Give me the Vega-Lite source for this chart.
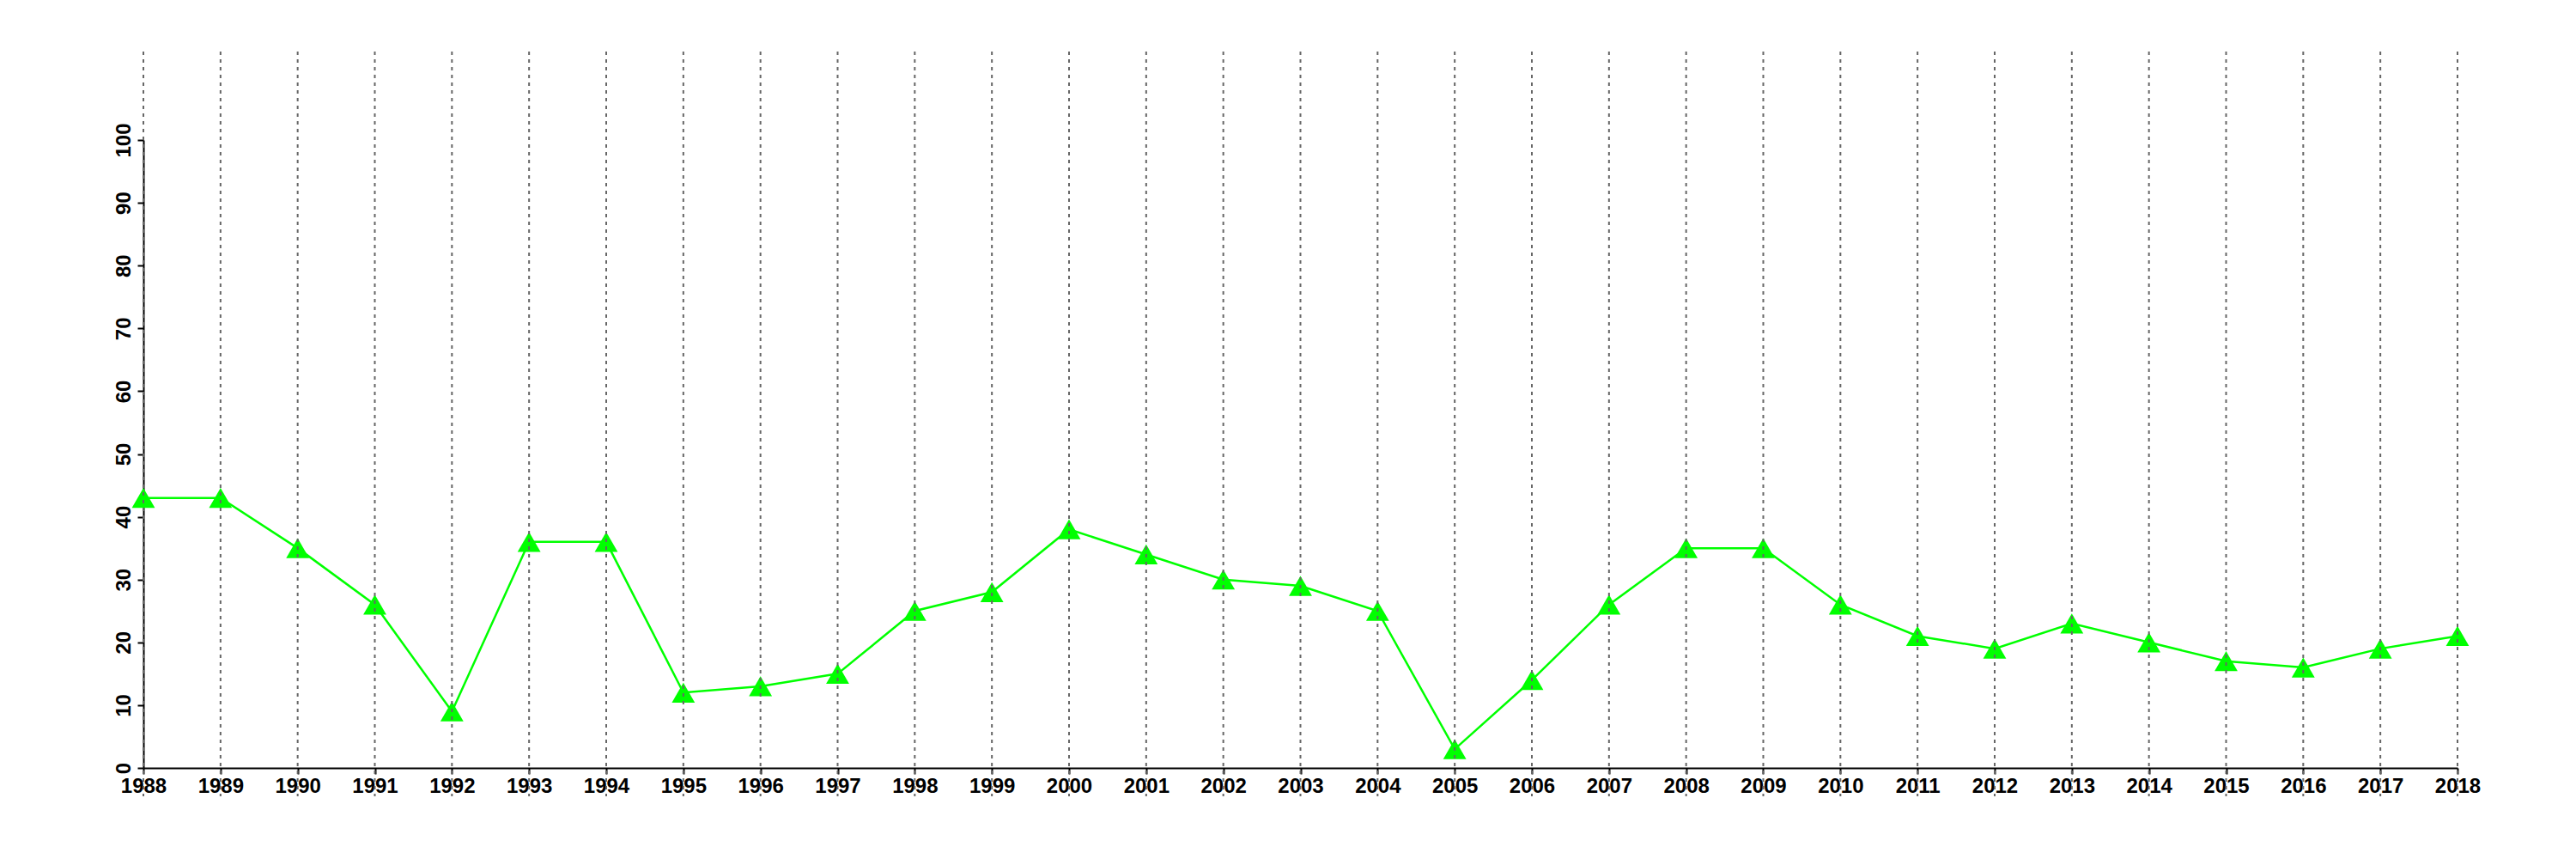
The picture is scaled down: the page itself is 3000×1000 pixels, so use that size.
{
  "$schema": "https://vega.github.io/schema/vega-lite/v6.json",
  "autosize": {"type": "none"},
  "width": 2695,
  "height": 731,
  "padding": {"left": 167, "top": 163, "right": 138, "bottom": 106},
  "background": "white",
  "config": {
    "view": {"stroke": null},
    "axis": {
      "labelFont": "Liberation Sans",
      "labelFontWeight": "bold",
      "labelFontSize": 24,
      "labelColor": "black",
      "domainColor": "black",
      "domainWidth": 2,
      "tickColor": "black",
      "tickWidth": 2,
      "tickSize": 7,
      "grid": false,
      "title": null
    }
  },
  "data": {
    "values": [
      {"year": 1988, "value": 43},
      {"year": 1989, "value": 43},
      {"year": 1990, "value": 35},
      {"year": 1991, "value": 26},
      {"year": 1992, "value": 9},
      {"year": 1993, "value": 36},
      {"year": 1994, "value": 36},
      {"year": 1995, "value": 12},
      {"year": 1996, "value": 13},
      {"year": 1997, "value": 15},
      {"year": 1998, "value": 25},
      {"year": 1999, "value": 28},
      {"year": 2000, "value": 38},
      {"year": 2001, "value": 34},
      {"year": 2002, "value": 30},
      {"year": 2003, "value": 29},
      {"year": 2004, "value": 25},
      {"year": 2005, "value": 3},
      {"year": 2006, "value": 14},
      {"year": 2007, "value": 26},
      {"year": 2008, "value": 35},
      {"year": 2009, "value": 35},
      {"year": 2010, "value": 26},
      {"year": 2011, "value": 21},
      {"year": 2012, "value": 19},
      {"year": 2013, "value": 23},
      {"year": 2014, "value": 20},
      {"year": 2015, "value": 17},
      {"year": 2016, "value": 16},
      {"year": 2017, "value": 19},
      {"year": 2018, "value": 21}
    ]
  },
  "layer": [
    {
      "mark": {"type": "line", "color": "#00ff00", "strokeWidth": 2.5},
      "encoding": {
        "x": {
          "field": "year", "type": "quantitative",
          "scale": {"domain": [1988, 2018], "nice": false, "zero": false},
          "axis": {
            "values": [1988,1989,1990,1991,1992,1993,1994,1995,1996,1997,1998,1999,2000,2001,2002,2003,2004,2005,2006,2007,2008,2009,2010,2011,2012,2013,2014,2015,2016,2017,2018],
            "format": "d",
            "labelFlush": false,
            "labelOverlap": false,
            "labelPadding": 2
          }
        },
        "y": {
          "field": "value", "type": "quantitative",
          "scale": {"domain": [0, 100], "nice": false},
          "axis": {
            "values": [0,10,20,30,40,50,60,70,80,90,100],
            "labelAngle": 270,
            "labelAlign": "center",
            "labelBaseline": "bottom",
            "labelPadding": 4,
            "labelOverlap": false
          }
        }
      }
    },
    {
      "mark": {"type": "point", "shape": "triangle-up", "filled": true, "color": "#00ff00", "size": 720, "opacity": 1},
      "encoding": {
        "x": {"field": "year", "type": "quantitative"},
        "y": {"field": "value", "type": "quantitative"}
      }
    },
    {
      "mark": {"type": "rule", "color": "#666666", "strokeWidth": 2, "strokeDash": [4, 5], "clip": false},
      "encoding": {
        "x": {"field": "year", "type": "quantitative"},
        "y": {"datum": 114.1},
        "y2": {"datum": -4.5}
      }
    }
  ]
}
